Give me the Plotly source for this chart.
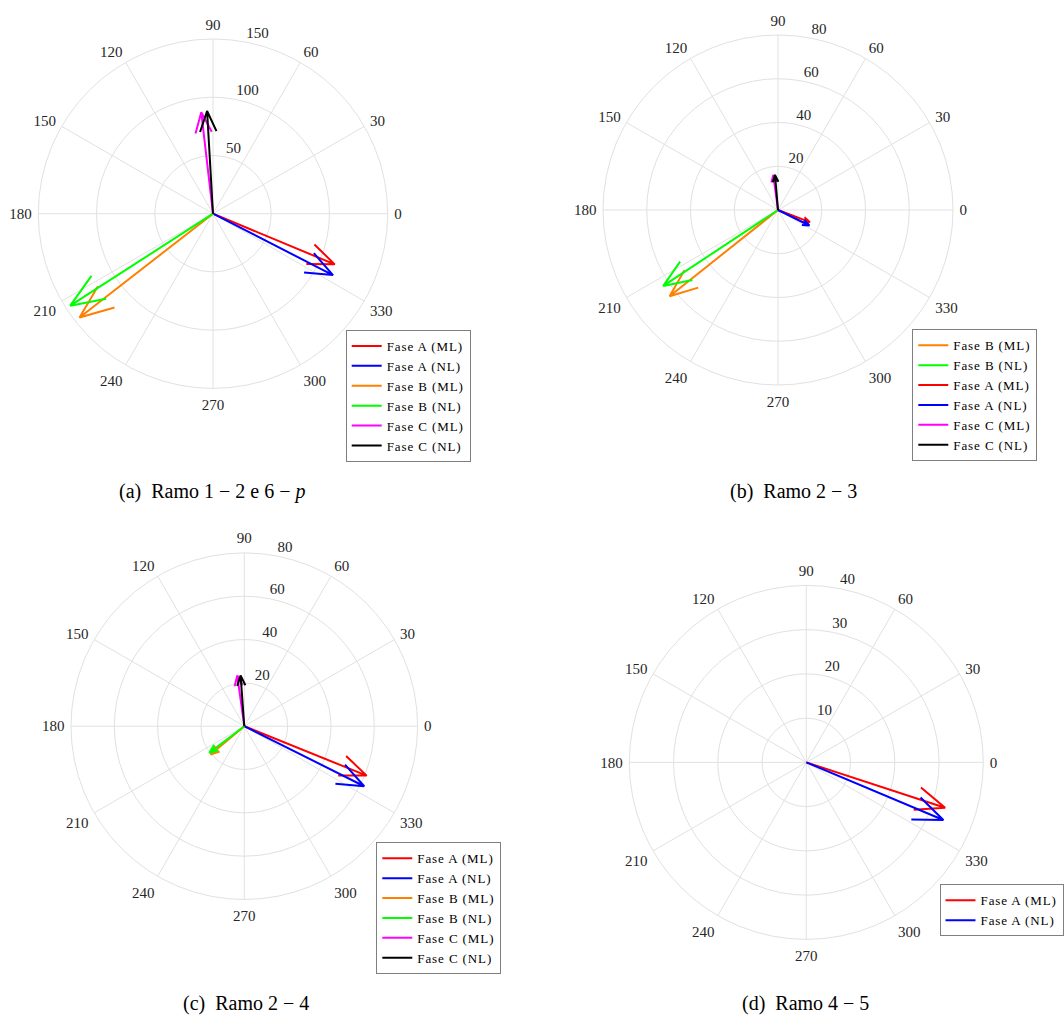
import numpy as np
import plotly.graph_objects as go

W, H = 1064, 1023
SERIF = "Liberation Serif"
GRID = "#e1e1e1"
TXT = "#262626"

# ---------------- data ----------------
angle_ticks = [0, 30, 60, 90, 120, 150, 180, 210, 240, 270, 300, 330]

colors = {
    "Fase A (ML)": "#ff0000",
    "Fase A (NL)": "#0000ff",
    "Fase B (ML)": "#ff8000",
    "Fase B (NL)": "#00ff00",
    "Fase C (ML)": "#ff00ff",
    "Fase C (NL)": "#000000",
}

# (a) Ramo 1-2 e 6-p
a_names = ["Fase A (ML)", "Fase A (NL)", "Fase B (ML)", "Fase B (NL)", "Fase C (ML)", "Fase C (NL)"]
a_mag = [113.2, 115.7, 145.2, 145.8, 87.6, 88.3]
a_ang = [337.4, 332.9, 217.9, 212.8, 96.6, 93.3]
a_rings = [50, 100, 150]

# (b) Ramo 2-3
b_names = ["Fase B (ML)", "Fase B (NL)", "Fase A (ML)", "Fase A (NL)", "Fase C (ML)", "Fase C (NL)"]
b_mag = [63.3, 62.9, 15.6, 16.0, 16.1, 16.1]
b_ang = [218.5, 213.5, 339.2, 333.7, 97.7, 94.9]
b_rings = [20, 40, 60, 80]

# (c) Ramo 2-4
c_names = ["Fase A (ML)", "Fase A (NL)", "Fase B (ML)", "Fase B (NL)", "Fase C (ML)", "Fase C (NL)"]
c_mag = [60.9, 61.9, 20.3, 20.3, 23.6, 23.5]
c_ang = [338.0, 333.4, 220.0, 217.3, 97.9, 94.2]
c_rings = [20, 40, 60, 80]

# (d) Ramo 4-5
d_names = ["Fase A (ML)", "Fase A (NL)"]
d_mag = [33.0, 33.6]
d_ang = [341.9, 337.2]
d_rings = [10, 20, 30, 40]

captions = [
    "(a)  Ramo 1 − 2 e 6 − <i>p</i>",
    "(b)  Ramo 2 − 3",
    "(c)  Ramo 2 − 4",
    "(d)  Ramo 4 − 5",
]

# ---------------- layout geometry (pixels) ----------------
panels = [
    dict(names=a_names, mag=a_mag, ang=a_ang, rings=a_rings, cx=213.0, cy=213.7, r=174.7,
         leg=(470.7, 330.0), cap=(212, 491)),
    dict(names=b_names, mag=b_mag, ang=b_ang, rings=b_rings, cx=778.0, cy=210.0, r=175.0,
         leg=(1037.3, 329.3), cap=(793, 491)),
    dict(names=c_names, mag=c_mag, ang=c_ang, rings=c_rings, cx=244.3, cy=726.2, r=173.3,
         leg=(501.3, 842.3), cap=(246, 1003)),
    dict(names=d_names, mag=d_mag, ang=d_ang, rings=d_rings, cx=806.3, cy=762.4, r=177.0,
         leg=(1063.5, 884.3), cap=(805, 1003)),
]

# MATLAB compass arrow shape: z * [0, 1, 0.8+0.08i, 1, 0.8-0.08i]
shape = np.array([0, 1, 0.8 + 0.08j, 1, 0.8 - 0.08j])

fig = go.Figure()
layout = dict(
    width=W, height=H, margin=dict(l=0, r=0, t=0, b=0),
    paper_bgcolor="white", plot_bgcolor="white",
    showlegend=True, annotations=[],
)

for i, p in enumerate(panels):
    sub = "polar" if i == 0 else f"polar{i+1}"
    leg = "legend" if i == 0 else f"legend{i+1}"
    rmax = p["rings"][-1]
    for name, m, a in zip(p["names"], p["mag"], p["ang"]):
        z = m * np.exp(1j * np.deg2rad(a)) * shape
        rr = np.abs(z)
        th = np.rad2deg(np.angle(z))
        th[0] = a
        fig.add_trace(go.Scatterpolar(
            r=rr, theta=th, mode="lines",
            name='<span style="letter-spacing:0.9px">' + name + "</span>",
            line=dict(color=colors[name], width=2),
            subplot=sub, legend=leg, hoverinfo="skip",
        ))
    # radial tick labels (placed along the 80 degree direction as in MATLAB compass)
    fig.add_trace(go.Scatterpolar(
        r=p["rings"], theta=[80] * len(p["rings"]), mode="text",
        text=["\u2009" + str(v) for v in p["rings"]], textposition="top right",
        textfont=dict(family=SERIF, size=15, color=TXT),
        cliponaxis=False, showlegend=False, subplot=sub, hoverinfo="skip",
    ))
    cx, cy, r = p["cx"], p["cy"], p["r"]
    layout[sub] = dict(
        domain=dict(x=[(cx - r) / W, (cx + r) / W], y=[1 - (cy + r) / H, 1 - (cy - r) / H]),
        bgcolor="white",
        radialaxis=dict(range=[0, rmax], tickvals=p["rings"], showticklabels=False,
                        ticks="", showline=False, gridcolor=GRID, gridwidth=1),
        angularaxis=dict(tickvals=angle_ticks, ticktext=[str(v) for v in angle_ticks],
                         direction="counterclockwise", rotation=0,
                         gridcolor=GRID, gridwidth=1, linecolor=GRID, linewidth=1,
                         showline=True, ticks="outside", ticklen=3,
                         tickcolor="rgba(0,0,0,0)",
                         tickfont=dict(family=SERIF, size=15, color=TXT)),
    )
    lx, ly = p["leg"]
    layout[leg] = dict(
        x=lx / W, y=1 - ly / H, xanchor="right", yanchor="top",
        bordercolor="#7f7f7f", borderwidth=1, bgcolor="white",
        font=dict(family=SERIF, size=13, color="black"),
        tracegroupgap=0, itemwidth=30,
    )
    capx, capy = p["cap"]
    layout["annotations"].append(dict(
        x=capx / W, y=1 - capy / H, xref="paper", yref="paper",
        text=captions[i], showarrow=False,
        font=dict(family=SERIF, size=20, color="black"),
        xanchor="center", yanchor="middle",
    ))

fig.update_layout(**layout)
fig.write_html("out.html", config={"displayModeBar": False},
               post_script="document.body.style.margin='0';")
